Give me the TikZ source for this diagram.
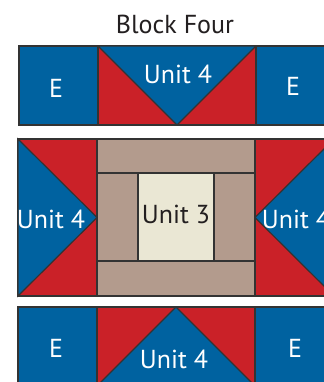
\documentclass[tikz,border=0pt]{standalone}
\usepackage{fontspec}
\setmainfont{PT Sans}
\definecolor{qblue}{HTML}{0062A0}
\definecolor{qred}{HTML}{CA2128}
\definecolor{qtan}{HTML}{B39B8D}
\definecolor{qcream}{HTML}{EAE7D4}
\definecolor{qline}{HTML}{333333}
\definecolor{qtext}{HTML}{231F20}
\tikzset{
  patch/.style={draw=qline, line width=0.9pt, line join=miter},
  bluep/.style={patch, fill=qblue},
  redp/.style={patch, fill=qred},
  tanp/.style={patch, fill=qtan},
  creamp/.style={patch, fill=qcream},
  wlabel/.style={text=white, font=\fontsize{19.5}{22}\selectfont, anchor=base, inner sep=0pt},
  dlabel/.style={text=qtext, font=\fontsize{19.5}{22}\selectfont, anchor=base, inner sep=0pt},
}
\begin{document}
\begin{tikzpicture}[x=0.75pt, y=-0.75pt]
\useasboundingbox (0,0) rectangle (324,382);
\fill[white] (0,0) rectangle (324,382);
\clip (0,0) rectangle (324,382);
% title
\node[dlabel] (title) at (175,33) {Block Four};
% ---- top row
\path[bluep] (19,46) rectangle (98,125);
\path[redp] (98,46) rectangle (256,125);
\path[bluep] (98,46) -- (256,46) -- (177,125) -- cycle;
\path[bluep] (256,46) rectangle (335,125);
\node[wlabel] (e1) at (56,97) {E};
\node[wlabel] (u1) at (178,83) {Unit 4};
\node[wlabel] (e2) at (293,95) {E};
% ---- middle row
\path[redp] (18,139) rectangle (97,296);
\path[bluep] (18,139) -- (97,217.5) -- (18,296) -- cycle;
\path[tanp] (97,139) rectangle (255,296);
\path[tanp] (97,173) rectangle (255,261);
\path[creamp] (138,173) rectangle (214,261);
\path[redp] (255,139) rectangle (334,296);
\path[bluep] (334,139) -- (255,217.5) -- (334,296) -- cycle;
\node[wlabel] (u2) at (51,228) {Unit 4};
\node[dlabel] (u3) at (176,223) {Unit 3};
\node[wlabel] (u4) at (296,228) {Unit 4};
% ---- bottom row
\path[bluep] (18,307) rectangle (97,386);
\path[redp] (97,307) rectangle (255,386);
\path[bluep] (97,386) -- (176,307) -- (255,386) -- cycle;
\path[bluep] (255,307) rectangle (334,386);
\node[wlabel] (e3) at (56,357) {E};
\node[wlabel] (u5) at (174,368) {Unit 4};
\node[wlabel] (e4) at (295,357) {E};
\end{tikzpicture}
\end{document}
